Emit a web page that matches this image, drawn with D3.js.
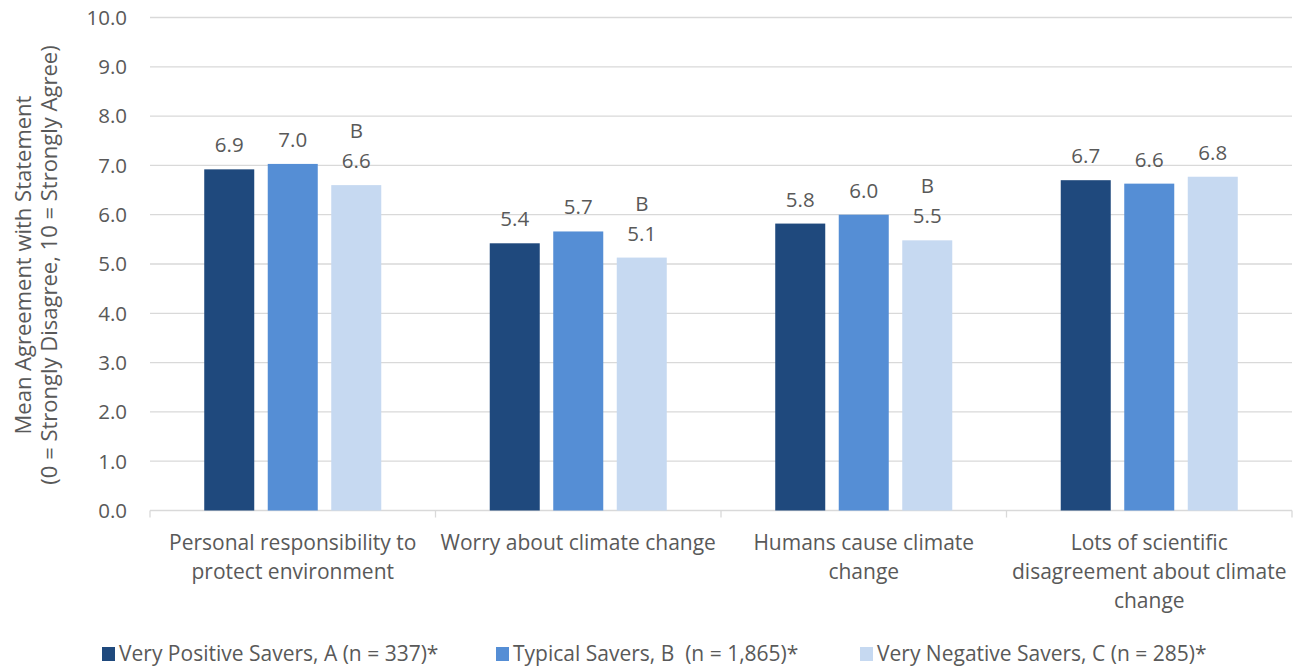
<!DOCTYPE html>
<html><head><meta charset="utf-8">
<script src="https://cdn.jsdelivr.net/npm/d3@7"></script>
<style>body{margin:0;background:#fff}svg{display:block}text{font-family:"Open Sans","Noto Sans",sans-serif;fill:#595959}</style>
</head><body><svg id="c" width="1296" height="669"></svg>
<script>
const categories = [
  ["Personal responsibility to", "protect environment"],
  ["Worry about climate change"],
  ["Humans cause climate", "change"],
  ["Lots of scientific", "disagreement about climate", "change"]
];
const seriesNames = ["Very Positive Savers, A (n = 337)*", "Typical Savers, B  (n = 1,865)*", "Very Negative Savers, C (n = 285)*"];
const veryPositive = [6.92, 5.42, 5.82, 6.70];
const typical = [7.03, 5.66, 6.00, 6.63];
const veryNegative = [6.60, 5.13, 5.48, 6.77];
const sigLetters = [["", "", "B"], ["", "", "B"], ["", "", "B"], ["", "", ""]];
const yTicks = [0,1,2,3,4,5,6,7,8,9,10];
const colors = ["#1f497d", "#558ed5", "#c6d9f1"];

const series = [veryPositive, typical, veryNegative];
const svg = d3.select("#c");
const m = {l:150, r:1292, t:17.5, b:510.5};
const x0 = d3.scaleBand().domain(d3.range(categories.length)).range([m.l, m.r]).paddingInner(0).paddingOuter(0);
const x1 = d3.scaleBand().domain(d3.range(3)).range([0, x0.bandwidth()]).paddingInner(0.2126).paddingOuter(0.854);
const y = d3.scaleLinear().domain([0,10]).range([m.b, m.t]);

// grid
svg.append("g").selectAll("line").data(yTicks).join("line")
  .attr("x1", m.l).attr("x2", m.r).attr("y1", d=>y(d)).attr("y2", d=>y(d))
  .attr("stroke", "#d9d9d9").attr("stroke-width", 1.3);
// y labels
svg.append("g").selectAll("text").data(yTicks).join("text")
  .attr("x", 127).attr("y", d=>y(d)).attr("dy", "0.36em").attr("text-anchor","end")
  .attr("font-size", 20.5).text(d=>d.toFixed(1));
// category ticks
svg.append("g").selectAll("line").data(d3.range(categories.length+1)).join("line")
  .attr("x1", d=> d<categories.length ? x0(d) : m.r).attr("x2", d=> d<categories.length ? x0(d) : m.r)
  .attr("y1", m.b).attr("y2", m.b+7).attr("stroke","#d9d9d9").attr("stroke-width",1.3);

// bars
categories.forEach((c, ci) => {
  const g = svg.append("g").attr("transform", `translate(${x0(ci)},0)`);
  series.forEach((s, si) => {
    const v = s[ci];
    const bx = x1(si), bw = x1.bandwidth();
    g.append("rect").attr("x", bx).attr("y", y(v)).attr("width", bw).attr("height", y(0)-y(v)).attr("fill", colors[si]);
    g.append("text").attr("x", bx+bw/2).attr("y", y(v)-17).attr("text-anchor","middle").attr("font-size",20.5).text(v.toFixed(1));
    if (sigLetters[ci][si]) g.append("text").attr("x", bx+bw/2).attr("y", y(v)-47).attr("text-anchor","middle").attr("font-size",20.5).text(sigLetters[ci][si]);
  });
  const t = g.append("text").attr("text-anchor","middle").attr("font-size",21);
  c.forEach((line, li) => t.append("tspan").attr("x", x0.bandwidth()/2).attr("y", 550 + li*29).text(line));
});

// y title
const yt = svg.append("text").attr("transform", "translate(0,265) rotate(-90)").attr("text-anchor","middle").attr("font-size",22);
yt.append("tspan").attr("x",0).attr("y",31).text("Mean Agreement with Statement");
yt.append("tspan").attr("x",0).attr("y",57).text("(0 = Strongly Disagree, 10 = Strongly Agree)");

// legend
const legX = [102, 496, 860];
seriesNames.forEach((n, i) => {
  svg.append("rect").attr("x", legX[i]).attr("y", 647).attr("width", 13).attr("height", 14).attr("fill", colors[i]);
  svg.append("text").attr("x", legX[i]+17).attr("y", 661).attr("font-size", 21).text(n).attr("xml:space","preserve");
});
</script></body></html>
